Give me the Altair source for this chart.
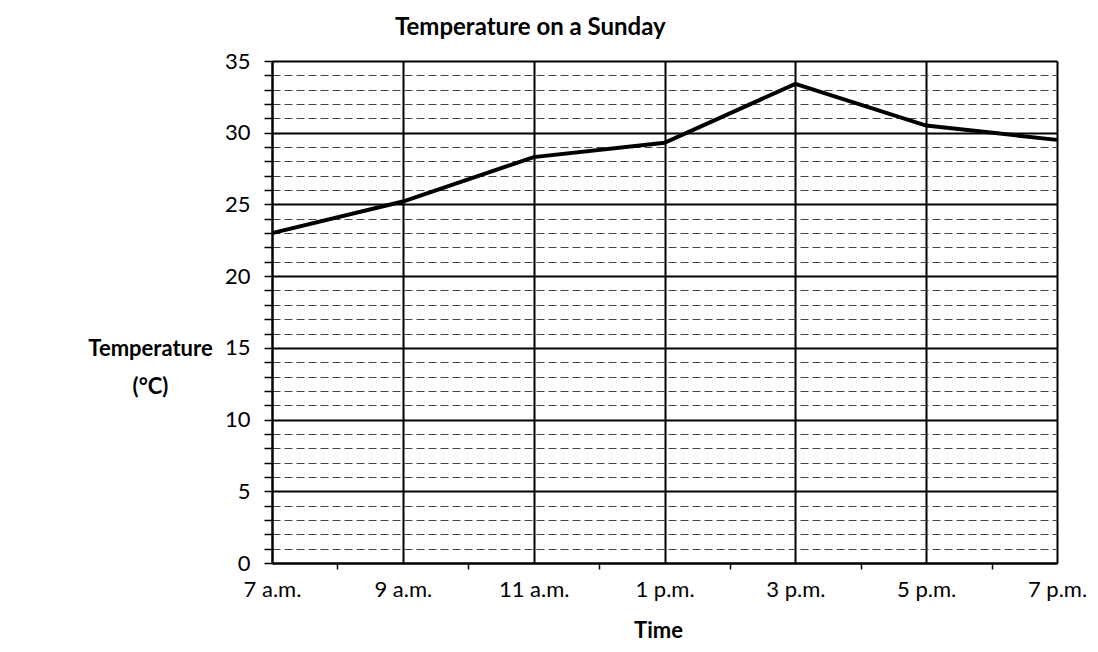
import altair as alt
import pandas as pd

# Data
hours = [7, 9, 11, 13, 15, 17, 19]
time_labels = ["7 a.m.", "9 a.m.", "11 a.m.", "1 p.m.", "3 p.m.", "5 p.m.", "7 p.m."]
temps = [23.0, 25.2, 28.3, 29.3, 33.4, 30.5, 29.5]

x_tick_values = list(range(7, 20))   # every hour (minor ticks on even hours)
y_tick_values = list(range(0, 36))   # every degree (minor dashed grid)

df = pd.DataFrame({"hour": hours, "label": time_labels, "temp": temps})

FONT = "Lato"

x_label_expr = (
    f"indexof({hours}, datum.value) >= 0 ? "
    f"{time_labels}[indexof({hours}, datum.value)] : ''"
)

x_axis = alt.Axis(
    values=x_tick_values,
    labelExpr=x_label_expr,
    labelOverlap=False,
    labelFlush=False,
    labelFont=FONT,
    labelFontSize=22,
    labelColor="black",
    labelPadding=10,
    grid=True,
    gridColor="black",
    gridWidth=2,
    gridOpacity={"condition": {"test": "datum.value % 2 == 0", "value": 0}, "value": 1},
    ticks=True,
    tickColor="black",
    tickWidth=1.5,
    tickSize=6,
    tickOpacity={"condition": {"test": "datum.value % 2 == 1", "value": 0}, "value": 1},
    domainColor="black",
    domainWidth=2,
    title="Time",
    titleFont=FONT,
    titleFontSize=22,
    titleFontWeight="bold",
    titleColor="black",
    titleX=386,
    titleY=74,
    titleAlign="center",
    titleBaseline="alphabetic",
)

y_axis = alt.Axis(
    values=y_tick_values,
    labelExpr="datum.value % 5 == 0 ? datum.value : ''",
    labelOverlap=False,
    labelFlush=False,
    labelFont=FONT,
    labelFontSize=22,
    labelColor="black",
    labelPadding=14,
    grid=True,
    gridColor={"condition": {"test": "datum.value % 5 == 0", "value": "black"}, "value": "#444444"},
    gridWidth={"condition": {"test": "datum.value % 5 == 0", "value": 2}, "value": 1},
    gridDash={"condition": {"test": "datum.value % 5 == 0", "value": []}, "value": [8, 4]},
    ticks=True,
    tickColor="black",
    tickWidth=1.5,
    tickSize=8,
    domainColor="black",
    domainWidth=2,
    title=["Temperature", "(°C)"],
    titleFont=FONT,
    titleFontSize=22,
    titleFontWeight="bold",
    titleColor="black",
    titleAngle=0,
    titleAlign="center",
    titleBaseline="middle",
    titleLineHeight=38,
    titleX=-122,
    titleY=287,
)

chart = (
    alt.Chart(df)
    .mark_line(color="black", strokeWidth=4)
    .encode(
        x=alt.X("hour:Q", scale=alt.Scale(domain=[7, 19], nice=False, zero=False), axis=x_axis),
        y=alt.Y("temp:Q", scale=alt.Scale(domain=[0, 35], nice=False), axis=y_axis),
    )
    .properties(
        width=785,
        height=502,
        title=alt.TitleParams(
            "Temperature on a Sunday",
            anchor="start",
            frame="group",
            dx=123,
            offset=-9,
            font=FONT,
            fontSize=24,
            fontWeight="bold",
            color="black",
            baseline="alphabetic",
        ),
        autosize=alt.AutoSizeParams(type="none"),
        padding={"left": 264, "top": 53, "right": 32, "bottom": 80},
    )
    .configure_view(stroke="black", strokeWidth=2)
    .configure(background="white")
)

chart.save("out.html", embed_options={"renderer": "svg", "actions": False})
